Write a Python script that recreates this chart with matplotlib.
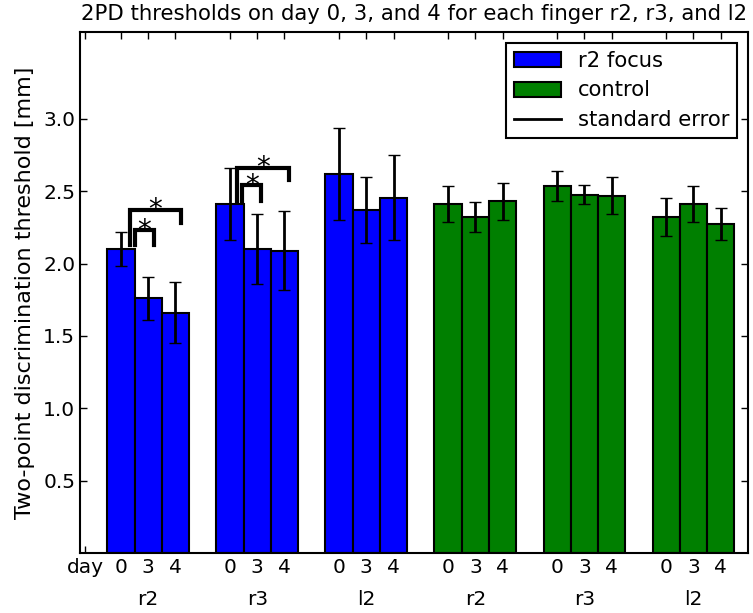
import matplotlib
matplotlib.use("Agg")
import matplotlib.pyplot as plt
from matplotlib.patches import Patch
from matplotlib.lines import Line2D
import numpy as np

plt.rcParams['font.family'] = ['DejaVu Sans']

fingers = ['r2', 'r3', 'l2']
days = ['0', '3', '4']
groups = ['r2 focus', 'control']

focus_mean = [2.10, 1.76, 1.66,
              2.41, 2.10, 2.09,
              2.62, 2.37, 2.455]
focus_se = [0.12, 0.15, 0.21,
            0.25, 0.24, 0.27,
            0.32, 0.225, 0.295]
control_mean = [2.41, 2.32, 2.43,
                2.535, 2.475, 2.47,
                2.32, 2.41, 2.275]
control_se = [0.125, 0.105, 0.13,
              0.105, 0.065, 0.13,
              0.13, 0.125, 0.11]

# significance brackets: (x_left, x_right, y_top, y_left_end, y_right_end)
brackets = [
    (2.00, 2.70, 2.23, 2.13, 2.13),
    (1.82, 3.72, 2.37, 2.13, 2.28),
    (5.95, 6.64, 2.54, 2.43, 2.43),
    (5.77, 7.66, 2.66, 2.43, 2.58),
]

yticks = [0.5, 1.0, 1.5, 2.0, 2.5, 3.0]

fig = plt.figure(figsize=(7.53, 6.13), dpi=100)
ax = fig.add_axes([80/753, 1-553/613, 668/753, 521/613])

colors = ['#0000ff', '#007f00']
all_means = [focus_mean, control_mean]
all_se = [focus_se, control_se]

xpos = []
for g in range(2):
    for f in range(3):
        for d in range(3):
            xpos.append(1 + (g*3 + f)*4 + d)

for g in range(2):
    xs = np.array(xpos[g*9:(g+1)*9])
    ax.bar(xs, all_means[g], width=1.0, align='edge', color=colors[g],
           edgecolor='black', linewidth=1.5, zorder=2)
    ax.errorbar(xs + 0.5, all_means[g], yerr=all_se[g], fmt='none',
                ecolor='black', elinewidth=2, capsize=4, capthick=1, zorder=3)

for (xl, xr, yt, yl, yr) in brackets:
    ax.plot([xl, xl, xr, xr], [yl, yt, yt, yr], color='black', lw=3,
            solid_joinstyle='miter', zorder=4)
    ax.annotate('*', xy=((xl+xr)/2, yt), xytext=(0, -6),
                textcoords='offset points', ha='center', va='baseline',
                fontsize=20)

ax.set_xlim(0, 24.5)
ax.set_ylim(0, 3.6)
ax.set_yticks(yticks)
ax.set_yticklabels(['%.1f' % v for v in yticks], fontsize=14.5)

xt = [0.2] + [x + 0.5 for x in xpos]
xl = ['day'] + days * 6
ax.set_xticks(xt)
ax.set_xticklabels(xl, fontsize=14.5)

for i in range(6):
    ax.annotate(fingers[i % 3], xy=(2.5 + 4*i, 0), xycoords=('data', 'axes fraction'),
                xytext=(0, -26.5), textcoords='offset points', ha='center', va='top',
                fontsize=14.5)

ax.tick_params(direction='in', top=True, right=True, length=5, width=1)
for s in ax.spines.values():
    s.set_linewidth(1.5)

ax.set_ylabel('Two-point discrimination threshold [mm]', fontsize=16, labelpad=6)
ax.set_title('2PD thresholds on day 0, 3, and 4 for each finger r2, r3, and l2',
             fontsize=15.3, pad=9)

handles = [Patch(facecolor=colors[0], edgecolor='black', linewidth=1.5),
           Patch(facecolor=colors[1], edgecolor='black', linewidth=1.5),
           Line2D([], [], color='black', lw=2)]
leg = ax.legend(handles, ['r2 focus', 'control', 'standard error'], loc='upper right',
                fontsize=15.2, fancybox=False, framealpha=1, edgecolor='black',
                handlelength=2.2, borderaxespad=0.5, labelspacing=0.45)
leg.get_frame().set_linewidth(1.5)

fig.savefig('out.png', dpi=100)
